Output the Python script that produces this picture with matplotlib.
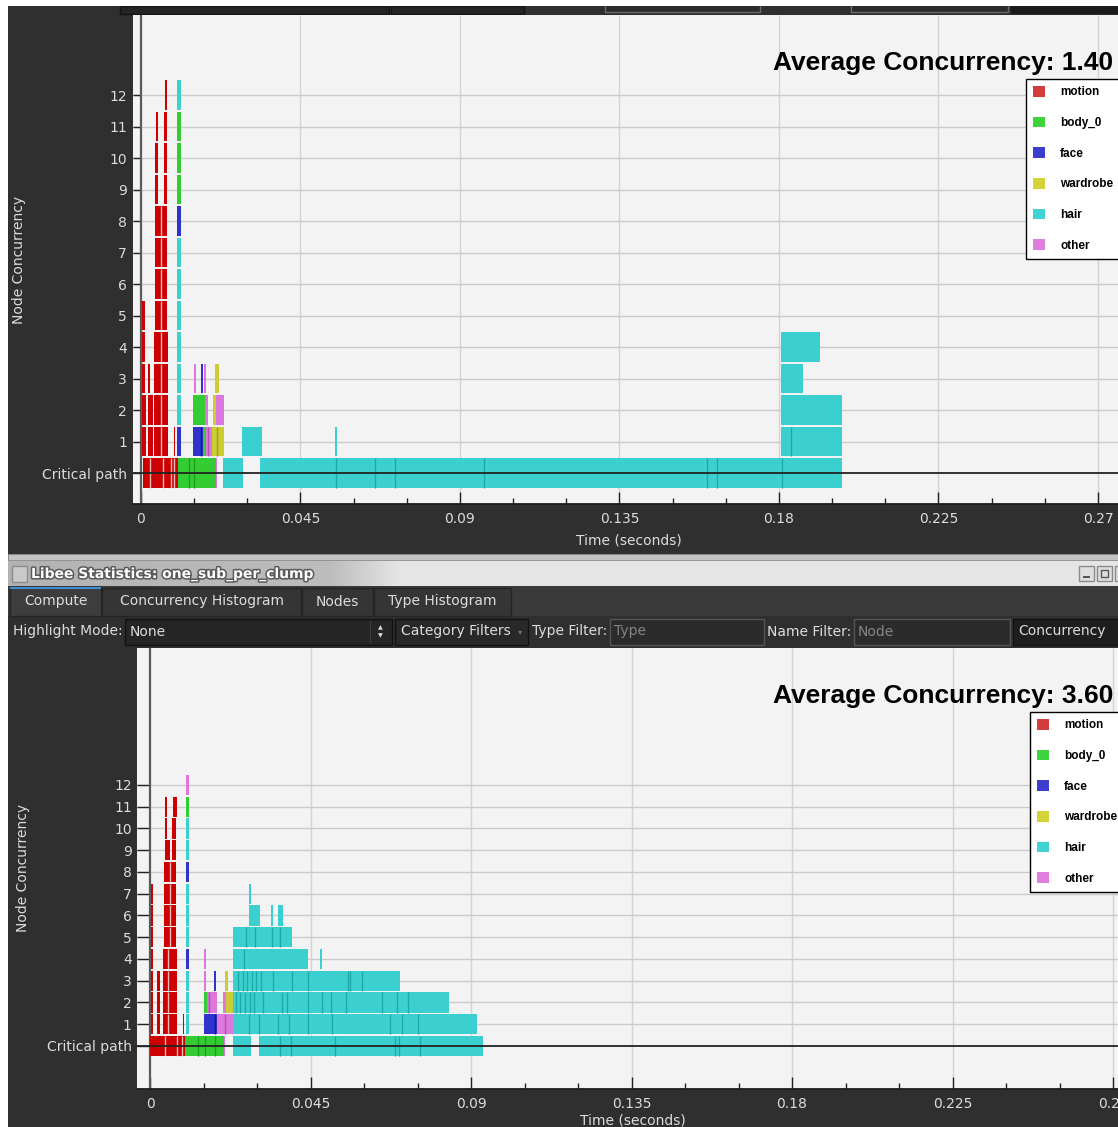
import numpy as np
import matplotlib
matplotlib.use("Agg")
import matplotlib.pyplot as plt
import matplotlib.patheffects as pe
from matplotlib.patches import Rectangle, Patch
from matplotlib.ticker import MultipleLocator

W, H = 1118, 1127

CATEGORIES = ["motion", "body_0", "face", "wardrobe", "hair", "other"]
BAR_COLORS = {"motion": "#cc0000", "body_0": "#33cc33", "face": "#3131cc",
              "wardrobe": "#cccc33", "hair": "#3ccfcf", "other": "#dd77dd"}
SPLIT_COLORS = {"motion": "#eeb8b8", "body_0": "#1f9f1f", "face": "#16168f",
                "wardrobe": "#9f9f1f", "hair": "#1faaaa", "other": "#b24fb2"}
KEY_COLORS = ["#d43d3d", "#3ed23e", "#3c3cd0", "#d3d33c", "#3fd3d3", "#e07ee0"]
ROW_LABELS = ["Critical path"] + [str(n) for n in range(1, 13)]
TIME_TICKS = [0, 0.045, 0.09, 0.135, 0.18, 0.225, 0.27]
TIME_LABELS = ["0", "0.045", "0.09", "0.135", "0.18", "0.225", "0.27"]

# runs are (row, [t0, t1, ...]) in seconds: consecutive times bound one node,
# row 0 is the critical path
TOP_AVG = 1.40
TOP_MOTION = [
    (0, [0.00056, 0.00262, 0.0061, 0.00844, 0.00937, 0.01041]),
    (1, [0.00028, 0.0014]), (2, [0.00028, 0.0014]),
    (3, [0.00028, 0.00104]), (4, [0.00028, 0.00104]), (5, [0.00028, 0.00104]),
    (1, [0.00188, 0.00328]), (2, [0.00188, 0.00328]), (3, [0.00188, 0.00262]),
    (1, [0.00366, 0.00575, 0.00759]), (2, [0.00366, 0.00575, 0.00759]),
    (3, [0.00366, 0.00575, 0.00759]), (4, [0.00366, 0.00575, 0.00759]),
    (5, [0.00402, 0.00566, 0.00731]), (6, [0.00402, 0.00566, 0.00731]),
    (7, [0.00402, 0.00566, 0.00731]), (8, [0.00402, 0.00566, 0.00731]),
    (9, [0.00402, 0.00487]), (9, [0.00638, 0.0074]),
    (10, [0.00402, 0.00487]), (10, [0.00638, 0.0074]),
    (11, [0.00422, 0.0047]), (11, [0.00638, 0.0074]),
    (12, [0.00666, 0.0074]),
    (1, [0.00928, 0.00965]),
]
TOP_BODY = [
    (0, [0.01041, 0.01359, 0.015, 0.02109]),
    (1, [0.01763, 0.01828]),
    (2, [0.01472, 0.018]),
    (9, [0.0102, 0.01125]), (10, [0.0102, 0.01125]), (11, [0.0102, 0.01125]),
]
TOP_FACE = [
    (1, [0.01481, 0.01706, 0.01763]),
    (3, [0.01688, 0.01744]),
    (1, [0.0102, 0.01125]), (8, [0.0102, 0.01125]),
]
TOP_WARDROBE = [
    (1, [0.02016, 0.02138, 0.02343]),
    (2, [0.02044, 0.02115]),
    (3, [0.02081, 0.02194]),
]
TOP_HAIR = [
    (0, [0.02306, 0.02869]),
    (0, [0.03361, 0.05513, 0.06609, 0.07172, 0.09675, 0.15975, 0.16256, 0.1808, 0.19772]),
    (1, [0.02841, 0.03403]),
    (1, [0.05484, 0.05541]),
    (1, [0.18056, 0.18338, 0.19772]),
    (2, [0.18056, 0.19772]),
    (3, [0.18056, 0.18675]),
    (4, [0.18056, 0.19153]),
    (2, [0.0102, 0.01125]), (3, [0.0102, 0.01125]), (4, [0.0102, 0.01125]),
    (5, [0.0102, 0.01125]), (6, [0.0102, 0.01125]), (7, [0.0102, 0.01125]),
    (12, [0.0102, 0.01125]),
]
TOP_OTHER = [
    (0, [0.02109, 0.02138]),
    (1, [0.01828, 0.01893, 0.02016]),
    (2, [0.018, 0.01904]),
    (2, [0.02115, 0.02343]),
    (3, [0.01482, 0.01538]),
    (3, [0.0178, 0.01837]),
]

BOT_AVG = 3.60
BOT_MOTION = [
    (0, [0.0, 0.0042, 0.00749, 0.00888, 0.00981]),
    (1, [0.0002, 0.00076]), (2, [0.0002, 0.00076]), (3, [0.0002, 0.00076]),
    (4, [0.0002, 0.00076]), (5, [0.0002, 0.00076]), (6, [0.0002, 0.00076]),
    (7, [0.0002, 0.00076]),
    (1, [0.00188, 0.0028]), (2, [0.00188, 0.0028]), (3, [0.00188, 0.0028]),
    (1, [0.00373, 0.0051, 0.00765]), (2, [0.00373, 0.0051, 0.00765]),
    (3, [0.00373, 0.0051, 0.00765]), (4, [0.00373, 0.0051, 0.00765]),
    (5, [0.004, 0.0056, 0.00729]), (6, [0.004, 0.0056, 0.00729]),
    (7, [0.004, 0.0056, 0.00729]), (8, [0.004, 0.0056, 0.00729]),
    (9, [0.0042, 0.0056]), (9, [0.00608, 0.00729]),
    (10, [0.0042, 0.00467]), (10, [0.00608, 0.00729]),
    (11, [0.0042, 0.00467]), (11, [0.00653, 0.00749]),
    (1, [0.00917, 0.00962]),
]
BOT_BODY = [
    (0, [0.00981, 0.01355, 0.01542, 0.01822, 0.02075]),
    (2, [0.01514, 0.01589]),
    (11, [0.01009, 0.01102]),
]
BOT_FACE = [
    (1, [0.01514, 0.01822, 0.01887]),
    (3, [0.01803, 0.0185]),
    (4, [0.01009, 0.01102]), (8, [0.01009, 0.01102]),
]
BOT_WARDROBE = [
    (2, [0.02131, 0.02319]),
    (3, [0.02103, 0.02187]),
]
BOT_HAIR = [
    (0, [0.02319, 0.02823]),
    (0, [0.03056, 0.03645, 0.03953, 0.05187, 0.06869, 0.0699, 0.0757, 0.09328]),
    (1, [0.02319, 0.02776, 0.03056, 0.03598, 0.03897, 0.04439, 0.05094, 0.06729,
         0.07056, 0.07505, 0.0916]),
    (2, [0.02319, 0.02402, 0.02523, 0.02664, 0.02804, 0.02925, 0.03178, 0.03692,
         0.03832, 0.04439, 0.04813, 0.05066, 0.05495, 0.06496, 0.06916, 0.07243, 0.08375]),
    (3, [0.02319, 0.02477, 0.02598, 0.02729, 0.0285, 0.02963, 0.03103, 0.03458,
         0.03972, 0.04439, 0.05543, 0.05607, 0.05935, 0.07009]),
    (4, [0.02319, 0.02645, 0.04438]),
    (4, [0.04766, 0.04822]),
    (5, [0.02319, 0.02692, 0.02944, 0.03411, 0.03645, 0.03981]),
    (6, [0.02784, 0.03084]), (6, [0.03393, 0.0344]), (6, [0.0358, 0.0372]),
    (7, [0.02784, 0.02832]),
    (1, [0.01009, 0.01102]), (2, [0.01009, 0.01102]), (3, [0.01009, 0.01102]),
    (5, [0.01009, 0.01102]), (6, [0.01009, 0.01102]), (7, [0.01009, 0.01102]),
    (9, [0.01009, 0.01102]), (10, [0.01009, 0.01102]),
]
BOT_OTHER = [
    (0, [0.02075, 0.02111]),
    (1, [0.01887, 0.02103, 0.02319]),
    (2, [0.01589, 0.01663, 0.01887]),
    (2, [0.02038, 0.02131]),
    (3, [0.01514, 0.0157]),
    (4, [0.01514, 0.0157]),
    (12, [0.01009, 0.01102]),
]

TXT = "#dcdcdc"
DARK = "#2f2f2f"

fig = plt.figure(figsize=(W / 100, H / 100), dpi=100, facecolor=DARK)

# window chrome, drawn in pixel coordinates
bg = fig.add_axes([0, 0, 1, 1], zorder=0)
bg.axis("off")


def box(x0, y0, x1, y1, fc, ec="none", lw=1.0, z=1):
    bg.add_patch(Rectangle((x0, y0), x1 - x0, y1 - y0, facecolor=fc,
                           edgecolor=ec, linewidth=lw, zorder=z))


def label(x, y, s, size=10, color=TXT, ha="left", **kw):
    bg.text(x, y, s, fontsize=size, color=color, ha=ha, va="center",
            family="DejaVu Sans", zorder=5, **kw)


ramp = np.interp(np.linspace(8, W, 800), [8, 330, 400, W], [0.70, 0.74, 0.90, 0.90])
bg.imshow(np.dstack([ramp, ramp, ramp]), extent=(8, W, 586, 560),
          aspect="auto", zorder=1)
bg.set_xlim(0, W)
bg.set_ylim(H, 0)

box(0, 0, W, 6, "white", z=2)
box(0, 0, 8, H, "white", z=2)
box(120, 6, 389, 14, "#242424", "#151515")
box(391, 6, 524, 14, "#242424", "#151515")
box(605, 4, 760, 12, "#2b2b2b", "#6a6a6a")
box(851, 4, 1008, 12, "#2b2b2b", "#6a6a6a")
box(1011, 6, W, 14, "#1b1b1b")

# splitter and title bar of the statistics window
box(8, 554, W, 560, "#c2c2c2", "#8c8c8c", lw=0.6)
box(12, 566, 27, 582, "#c9c9c9", "#8d8d8d", z=2)
bg.text(31, 574, "Libee Statistics: one_sub_per_clump", fontsize=10, fontweight="bold",
        color="white", va="center", family="DejaVu Sans", zorder=5,
        path_effects=[pe.withStroke(linewidth=2.2, foreground="#5a5a5a")])
for bx in (1079, 1097, 1115):
    box(bx, 566, bx + 15, 581, "#dedede", "#8a8a8a", z=2)
box(1083, 576, 1090, 578, "#555555", z=3)
box(1101, 570, 1108, 577, "none", "#555555", z=3)

# tab row
box(8, 586, W, 616, "#3a3a3a")
tabs = [("Compute", 10, 101), ("Concurrency Histogram", 102, 301),
        ("Nodes", 302, 373), ("Type Histogram", 374, 511)]
for i, (name, x0, x1) in enumerate(tabs):
    box(x0, 587 if i == 0 else 588, x1, 616, "#3d3d3d" if i == 0 else "#353535", "#242424", z=2)
    label((x0 + x1) / 2, 601.5, name, ha="center")
box(10, 587, 101, 589, "#3d8fd6", z=3)

# filter row
box(8, 616, W, 647, DARK)
label(13, 631.5, "Highlight Mode:")
box(125, 619, 392, 645, "#252525", "#111111", z=2)
label(130, 631.5, "None")
box(370, 621, 371, 643, "#3c3c3c", z=3)
label(380, 627.5, "\u25b2", size=4.5, ha="center")
label(380, 635.5, "\u25bc", size=4.5, ha="center")
box(395, 619, 528, 645, "#282828", "#111111", z=2)
label(401, 631.5, "Category Filters")
label(520, 632, "\u25be", size=6, color="#707070", ha="center")
label(532, 631.5, "Type Filter:")
box(610, 619, 764, 645, "#2b2b2b", "#555555", z=2)
label(614, 631.5, "Type", color="#858585")
label(767, 631.5, "Name Filter:")
box(854, 619, 1010, 645, "#2b2b2b", "#555555", z=2)
label(858, 631.5, "Node", color="#858585")
box(1013, 619, W + 5, 645, "#1e1e1e", "#111111", z=2)
label(1018, 631.5, "Concurrency")

# axis titles sit in the dark margins
label(19, 260, "Node Concurrency", rotation=90, ha="center")
label(23, 868, "Node Concurrency", rotation=90, ha="center")
label(629, 541, "Time (seconds)", ha="center")
label(633, 1121, "Time (seconds)", ha="center")


def px_axes(x0, y0, x1, y1):
    return fig.add_axes([x0 / W, 1 - y1 / H, (x1 - x0) / W, (y1 - y0) / H], zorder=2)


def draw_chart(ax, series, xlim, ylim, ytick_len, ypad, avg, avg_pos, anchor):
    ax.set_facecolor("#f3f3f3")
    ax.set_xlim(*xlim)
    ax.set_ylim(*ylim)
    for side in ("top", "right", "left"):
        ax.spines[side].set_visible(False)
    ax.spines["bottom"].set_color("#1e1e1e")
    ax.spines["bottom"].set_linewidth(1.3)

    ax.set_xticks(TIME_TICKS)
    ax.set_xticklabels(TIME_LABELS)
    ax.xaxis.set_minor_locator(MultipleLocator(0.015))
    ax.tick_params(axis="x", which="major", direction="in", length=8.5, width=1,
                   color="#222222", labelcolor=TXT, labelsize=10, pad=6)
    ax.tick_params(axis="x", which="minor", direction="in", length=4, width=1,
                   color="#222222")
    ax.set_yticks(range(len(ROW_LABELS)))
    ax.set_yticklabels(ROW_LABELS)
    ax.tick_params(axis="y", direction="in", length=ytick_len, width=1,
                   color="#222222", labelcolor=TXT, labelsize=10, pad=ypad)

    ax.vlines(TIME_TICKS[1:], ylim[0], ylim[1], colors="#d3d3d3", linewidth=1, zorder=1)
    ax.hlines(range(1, len(ROW_LABELS)), xlim[0], xlim[1], colors="#cbcbcb",
              linewidth=1, zorder=1)
    ax.axvline(0, color="#5a5a5a", linewidth=1.6, zorder=2)

    for cat, runs in zip(CATEGORIES, series):
        for row, edges in runs:
            ax.barh(row, edges[-1] - edges[0], left=edges[0], height=0.93,
                    color=BAR_COLORS[cat], linewidth=0, zorder=3)
            if len(edges) > 2:
                ax.vlines(edges[1:-1], row - 0.465, row + 0.465,
                          colors=SPLIT_COLORS[cat], linewidth=1.0, zorder=4)

    ax.axhline(0, color="#222222", linewidth=1.3, zorder=5)

    ax.text(avg_pos[0], avg_pos[1], f"Average Concurrency: {avg:.2f}",
            transform=ax.transAxes, ha="right", va="baseline", fontsize=19,
            fontweight="bold", family="Liberation Sans", color="black", zorder=6)

    handles = [Patch(facecolor=c, edgecolor="none") for c in KEY_COLORS]
    key = ax.legend(handles, CATEGORIES, loc="upper left", bbox_to_anchor=anchor,
                    borderaxespad=0, frameon=True, fancybox=False, framealpha=1,
                    edgecolor="black", facecolor="white",
                    prop=dict(family="Liberation Sans", weight="bold", size=8.5),
                    handlelength=1.0, handleheight=1.0, handletextpad=1.3,
                    labelspacing=1.55, borderpad=0.6)
    key.get_frame().set_linewidth(1.0)
    key.set_zorder(7)


top = px_axes(133, 15, 1140, 504)
draw_chart(top, [TOP_MOTION, TOP_BODY, TOP_FACE, TOP_WARDROBE, TOP_HAIR, TOP_OTHER],
           xlim=(-0.002257, 0.28185), ylim=(-0.984, 14.54),
           ytick_len=5.8, ypad=4.3, avg=TOP_AVG,
           avg_pos=((1113 - 133) / 1007, (504 - 70) / 489),
           anchor=((1026 - 133) / 1007, (504 - 79) / 489))

bottom = px_axes(136.7, 647.5, 1140, 1089)
draw_chart(bottom, [BOT_MOTION, BOT_BODY, BOT_FACE, BOT_WARDROBE, BOT_HAIR, BOT_OTHER],
           xlim=(-0.00373, 0.27757), ylim=(-1.977, 18.32),
           ytick_len=9.6, ypad=3.6, avg=BOT_AVG,
           avg_pos=((1113 - 136.7) / 1003.3, (1089 - 703) / 441.5),
           anchor=((1030 - 136.7) / 1003.3, (1089 - 712) / 441.5))

fig.savefig("out.png", dpi=100, facecolor=DARK)
